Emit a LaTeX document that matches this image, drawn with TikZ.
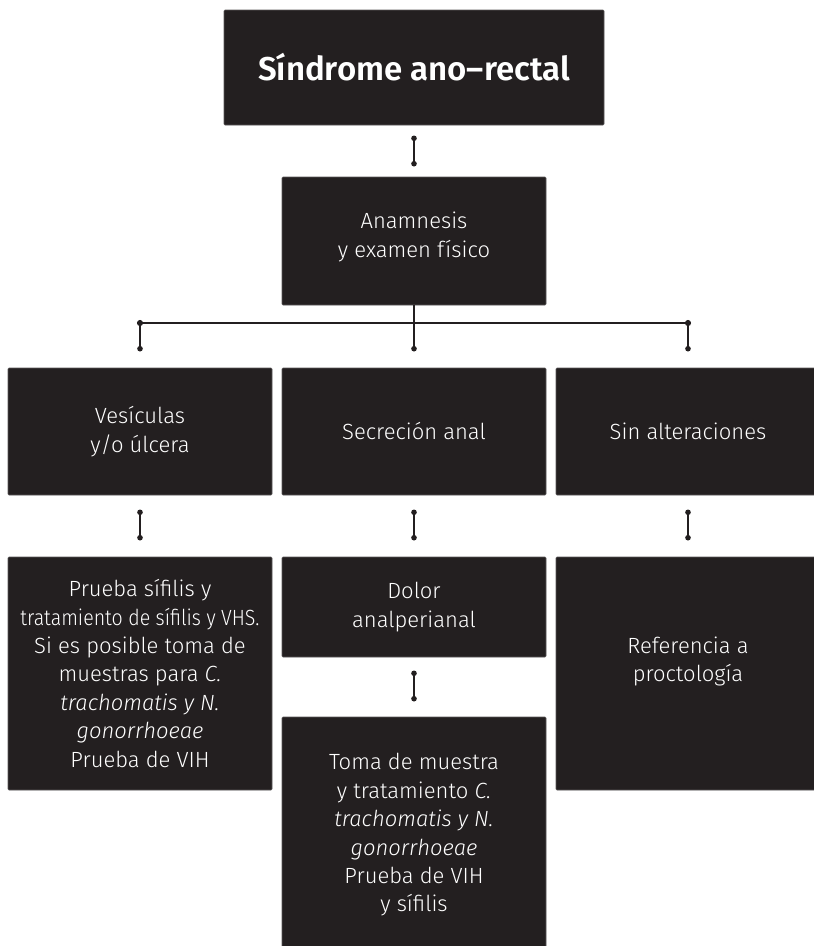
\documentclass[tikz,border=0pt]{standalone}
\usepackage{graphicx}
\usepackage{fontspec}
\setmainfont{Fira Sans Light}[ItalicFont={Fira Sans Light Italic},BoldFont={Fira Sans SemiBold}]
\usetikzlibrary{arrows.meta}
\definecolor{boxfill}{HTML}{231F20}
\definecolor{boxedge}{HTML}{5A5758}
\begin{document}
\begin{tikzpicture}[x=1pt,y=-1pt,
  box/.style={fill=boxfill,draw=boxedge,line width=0.6pt,rounded corners=1pt,
    inner sep=0pt,minimum width=264pt},
  txt/.style={text=white,align=center,inner sep=0pt,
    font=\fontsize{22}{28.4}\selectfont},
  link/.style={line width=1.2pt,draw=boxfill,
    {Circle[length=5.5pt]}-{Circle[length=5.5pt]},
    shorten <=-2.75pt,shorten >=-2.75pt},
  endlink/.style={line width=1.2pt,draw=boxfill,
    -{Circle[length=5.5pt]},shorten >=-2.75pt},
  bus/.style={line width=1.8pt,draw=boxfill,
    {Circle[length=6pt]}-{Circle[length=6pt]},
    shorten <=-3pt,shorten >=-3pt}]
\useasboundingbox (0,0) rectangle (814,946);

% boxes
\node[box,minimum width=380pt,minimum height=115pt] (title) at (414,67.5) {};
\node[box,minimum height=128pt] (anam) at (414,241) {};
\node[box,minimum height=127pt] (ves) at (140,431.5) {};
\node[box,minimum height=127pt] (sec) at (414,431.5) {};
\node[box,minimum height=127pt] (sin) at (688,431.5) {};
\node[box,minimum height=233pt] (pru) at (140,673.5) {};
\node[box,minimum height=100pt] (dol) at (414,607) {};
\node[box,minimum height=233pt] (ref) at (688,673.5) {};
\node[box,minimum height=236pt] (tom) at (414,835) {};

% texts
\node[text=white,inner sep=0pt,font=\fontsize{33}{38}\bfseries] (title-t) at (title.center) {Síndrome ano–rectal};
\node[txt] (anam-t) at ([yshift=4pt]anam.center) {Anamnesis\\y examen físico};
\node[txt] (ves-t) at (ves.center) {Vesículas\\y/o úlcera};
\node[txt] (sec-t) at (sec.center) {Secreción anal};
\node[txt] (sin-t) at (sin.center) {Sin alteraciones};
\node[txt] (pru-t) at (pru.center) {Prueba sífilis y\\\scalebox{0.89}[1]{tratamiento de sífilis y VHS.}\\Si es posible toma de\\muestras para \textit{C.}\\\textit{trachomatis y N.}\\\textit{gonorrhoeae}\\Prueba de VIH};
\node[txt] (dol-t) at (dol.center) {Dolor\\analperianal};
\node[txt] (ref-t) at ([yshift=12pt]ref.center) {Referencia a\\proctología};
\node[txt] (tom-t) at (tom.center) {Toma de muestra\\y tratamiento \textit{C.}\\\textit{trachomatis y N.}\\\textit{gonorrhoeae}\\Prueba de VIH\\y sífilis};

% connectors
\draw[link] ([yshift=-13pt]title.south) -- ([yshift=13pt]anam.north);

\coordinate (busL) at (ves.north |- 0,323);
\coordinate (busR) at (sin.north |- 0,323);
\draw[bus] (busL) -- (busR);
\draw[endlink] (anam.south) -- ([yshift=19pt]sec.north);
\draw[endlink] (busL) -- ([yshift=19pt]ves.north);
\draw[endlink] (busR) -- ([yshift=19pt]sin.north);

\draw[link] ([yshift=-17pt]ves.south) -- ([yshift=19pt]pru.north);
\draw[link] ([yshift=-17pt]sec.south) -- ([yshift=19pt]dol.north);
\draw[link] ([yshift=-17pt]sin.south) -- ([yshift=19pt]ref.north);
\draw[link] ([yshift=-16pt]dol.south) -- ([yshift=18pt]tom.north);
\end{tikzpicture}
\end{document}
